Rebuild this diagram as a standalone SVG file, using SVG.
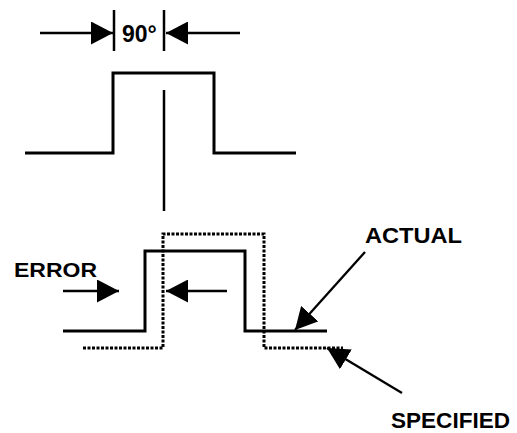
<svg xmlns="http://www.w3.org/2000/svg" width="517" height="433" viewBox="0 0 517 433">
<style>
.lbl{font-family:"Liberation Sans",Arial,sans-serif;font-weight:bold;fill:#000}
.pulse{fill:none;stroke:#000;stroke-width:3}
.dot{fill:none;stroke:#000;stroke-width:3;stroke-dasharray:3 1.5}
.arr{fill:none;stroke:#000;stroke-width:2.3;marker-end:url(#ah)}
.bar{stroke:#000;stroke-width:2.5}
</style>
<defs>
<marker id="ah" viewBox="0 0 22 23" refX="22" refY="11.5" markerWidth="22" markerHeight="23" markerUnits="userSpaceOnUse" orient="auto">
<path d="M0,0 L22,11.5 L0,23 z" fill="#000"/>
</marker>
</defs>
<rect width="517" height="433" fill="#fff"/>
<g id="top-pulse">
<polyline class="pulse" points="25,153 113,153 113,73 214,73 214,153 296,153"/>
</g>
<g id="phase-marker">
<line class="bar" x1="114" y1="10" x2="114" y2="51"/>
<line class="bar" x1="164" y1="10" x2="164" y2="51"/>
<text class="lbl" x="122" y="42" font-size="23">90°</text>
</g>
<g id="center-line">
<line class="bar" x1="164" y1="90" x2="164" y2="211"/>
</g>
<g id="specified-pulse">
<polyline class="dot" points="83,348 163,348 163,234 264,234 264,348 343,348"/>
</g>
<g id="actual-pulse">
<polyline class="pulse" points="63,331 145,331 145,251 245,251 245,331 327,331"/>
</g>
<g id="labels">
<text class="lbl" x="14" y="277" font-size="21" textLength="83" lengthAdjust="spacingAndGlyphs">ERROR</text>
<text class="lbl" x="365" y="243" font-size="22" textLength="97" lengthAdjust="spacingAndGlyphs">ACTUAL</text>
<text class="lbl" x="391" y="428" font-size="22" textLength="119" lengthAdjust="spacingAndGlyphs">SPECIFIED</text>
</g>
<g id="connectors">
<line class="arr" x1="40" y1="33" x2="113" y2="33"/>
<line class="arr" x1="240" y1="33" x2="166" y2="33"/>
<line class="arr" x1="63" y1="291" x2="119" y2="291"/>
<line class="arr" x1="227" y1="291" x2="166" y2="291"/>
<line class="arr" x1="365" y1="252" x2="295" y2="330"/>
<line class="arr" x1="402" y1="393" x2="327" y2="348"/>
</g>
</svg>
